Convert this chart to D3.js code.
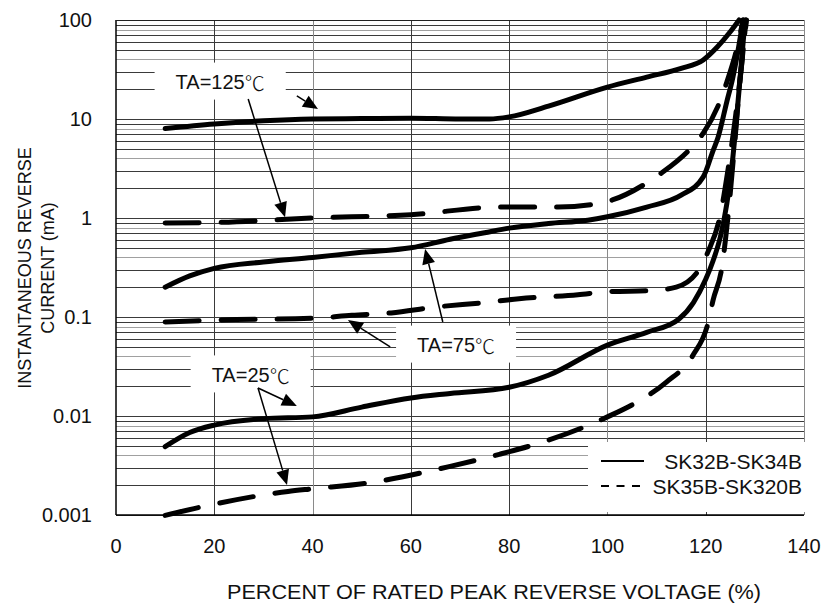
<!DOCTYPE html>
<html>
<head>
<meta charset="utf-8">
<script src="https://cdn.jsdelivr.net/npm/d3@7"></script>
<style>
  html, body { margin: 0; padding: 0; background: #fff; }
  text { font-family: "Liberation Sans", Arial, sans-serif; fill: #111; }
</style>
</head>
<body>
<svg id="chart" width="827" height="603"></svg>
<script>
// ---------------- DATA ----------------
const xTicks = [0, 20, 40, 60, 80, 100, 120, 140];
const yTicks = [0.001, 0.01, 0.1, 1, 10, 100];
const yTickLabels = ["0.001", "0.01", "0.1", "1", "10", "100"];

// [percent of rated voltage, reverse current mA]
const solid125 = [[10,8.0],[20,8.9],[30,9.6],[40,10],[50,10.1],[60,10.2],[70,10],[76,10],[80,10.5],[88,13.5],[100,21],[108,26.5],[115,32.5],[119.5,39.5],[122.3,53],[125,76],[126.8,100]];
const dashed125 = [[10,0.89],[20,0.9],[40,1.0],[60,1.08],[78,1.29],[90,1.29],[97.5,1.38],[101,1.52],[108,2.26],[111,2.85],[117,5.1],[119.5,7.2],[122.5,13.5],[124.3,23.6],[126.4,53],[127.6,100]];
const solid75 = [[10,0.2],[15,0.26],[20,0.31],[30,0.36],[40,0.40],[50,0.45],[60,0.5],[68,0.61],[75,0.71],[80,0.79],[88,0.88],[96,0.95],[100,1.03],[108,1.29],[115,1.7],[119.5,2.6],[121.5,4.8],[122.5,6.5],[124.3,15],[125.5,26],[126.5,47],[127.6,100]];
const dashed75 = [[10,0.089],[20,0.093],[40,0.097],[48,0.104],[56,0.11],[65,0.126],[75,0.14],[82,0.153],[94,0.168],[100,0.18],[109,0.185],[114,0.2],[118.8,0.31],[120.5,0.46],[122.9,1.03],[124.5,3],[126,10],[127.3,35],[128.2,100]];
const solid25 = [[10,0.0049],[15,0.0068],[20,0.0081],[30,0.0094],[40,0.0098],[50,0.0123],[60,0.0152],[68,0.0169],[80,0.0195],[88,0.0258],[100,0.052],[108,0.07],[114.5,0.095],[117.5,0.14],[120,0.24],[121.5,0.37],[123,0.65],[124.3,1.4],[125.5,4],[126.8,20],[128,100]];
const dashed25 = [[10,0.00099],[17.5,0.00121],[35,0.00173],[40,0.00184],[51,0.0021],[68,0.0031],[78,0.0041],[88,0.0057],[100,0.0098],[106,0.0138],[112,0.022],[117.4,0.041],[120.5,0.088],[121.5,0.148],[123.3,0.32],[124.5,1],[125.8,5],[127,25],[128.3,100]];

const seriesNames = ["SK32B-SK34B", "SK35B-SK320B"];
const tempLabels = ["TA=125", "TA=75", "TA=25"];
// label anchor points (data coords: percent, mA)
const labelPos = [[21.2, 23.6], [69.2, 0.052], [27.4, 0.026]];
// arrows: [tailX, tailY, tipX, tipY] in data coords
const arrows = [
  [36.8, 17.1, 41.1, 12.6],
  [26.9, 15.9, 34.4, 1.02],
  [55.8, 0.0498, 47.2, 0.093],
  [66.5, 0.089, 62.9, 0.486],
  [28.9, 0.0192, 36.8, 0.0126],
  [28.9, 0.0192, 34.8, 0.00201]
];

// ---------------- LAYOUT ----------------
const svg = d3.select("#chart");
const L = 116, R = 804, T = 20, B = 515;
const x = d3.scaleLinear().domain([0, 140]).range([L, R]);
const y = d3.scaleLog().domain([0.001, 100]).range([B, T]);

// grid
const g = svg.append("g");
const minorVals = [];
for (let e = -3; e < 2; e++) for (let m = 1; m <= 9; m++) minorVals.push(m * Math.pow(10, e));
minorVals.push(100);
g.selectAll("line.h").data(minorVals).enter().append("line")
  .attr("x1", L).attr("x2", R)
  .attr("y1", d => Math.round(y(d)) + 0.5).attr("y2", d => Math.round(y(d)) + 0.5)
  .attr("stroke", d => {
    const m = Math.round(d / Math.pow(10, Math.floor(Math.log10(d) + 1e-9)));
    return (m === 4 || m === 8) ? "#a0a0a0" : "#3a3a3a";
  })
  .attr("stroke-width", 1);
g.selectAll("line.v").data(xTicks.slice(1)).enter().append("line")
  .attr("x1", d => Math.round(x(d)) + 0.5).attr("x2", d => Math.round(x(d)) + 0.5)
  .attr("y1", T).attr("y2", B)
  .attr("stroke", d => (d === 40 || d === 100 || d === 140) ? "#8a8a8a" : "#3a3a3a")
  .attr("stroke-width", 1);

// axes frame (left, bottom, top)
svg.append("line").attr("x1", L).attr("x2", L).attr("y1", T).attr("y2", B).attr("stroke", "#000").attr("stroke-width", 1.5);
svg.append("line").attr("x1", L).attr("x2", R).attr("y1", B).attr("y2", B).attr("stroke", "#000").attr("stroke-width", 1.5);
svg.append("line").attr("x1", L).attr("x2", R).attr("y1", T + 0.5).attr("y2", T + 0.5).attr("stroke", "#222").attr("stroke-width", 1);

// white label boxes (hide gridlines)
const boxG = svg.append("g");
// legend box
svg.append("rect").attr("x", 588).attr("y", 442).attr("width", 218).attr("height", 70).attr("fill", "#fff");

// curves
const line = d3.line().x(d => x(d[0])).y(d => y(d[1])).curve(d3.curveMonotoneX);
const curves = [
  [solid125, false], [dashed125, true],
  [solid75, false], [dashed75, true],
  [solid25, false], [dashed25, true]
];
svg.append("g").selectAll("path").data(curves).enter().append("path")
  .attr("d", d => line(d[0]))
  .attr("fill", "none").attr("stroke", "#000").attr("stroke-width", 5)
  .attr("stroke-linecap", "round").attr("stroke-linejoin", "round")
  .attr("stroke-dasharray", d => d[1] ? "34,22" : null);

// labels
const txtG = svg.append("g");
tempLabels.forEach((t, i) => {
  const tx = txtG.append("text")
    .attr("x", x(labelPos[i][0])).attr("y", y(labelPos[i][1]))
    .attr("text-anchor", "middle").attr("dominant-baseline", "central")
    .attr("font-size", 20);
  tx.append("tspan").text(t);
  tx.append("tspan").attr("font-family", "Noto Sans CJK SC").attr("font-weight", 300).text("℃");
  const bb = tx.node().getBBox();
  boxG.append("rect").attr("x", bb.x - 21).attr("y", bb.y - 5)
    .attr("width", bb.width + 42).attr("height", bb.height + 8).attr("fill", "#fff");
});

// arrows
const aG = svg.append("g");
arrows.forEach(a => {
  const x1 = x(a[0]), y1 = y(a[1]), x2 = x(a[2]), y2 = y(a[3]);
  const ang = Math.atan2(y2 - y1, x2 - x1);
  const hl = 15, hw = 6.5;
  const bx = x2 - hl * Math.cos(ang), by = y2 - hl * Math.sin(ang);
  aG.append("line").attr("x1", x1).attr("y1", y1).attr("x2", bx).attr("y2", by)
    .attr("stroke", "#000").attr("stroke-width", 1.5);
  const px = -Math.sin(ang) * hw, py = Math.cos(ang) * hw;
  aG.append("path")
    .attr("d", `M${x2},${y2}L${bx + px},${by + py}L${bx - px},${by - py}Z`)
    .attr("fill", "#000");
});

// legend
const lg = svg.append("g");
lg.append("line").attr("x1", 601).attr("x2", 644).attr("y1", 461).attr("y2", 461).attr("stroke", "#000").attr("stroke-width", 2);
lg.append("line").attr("x1", 601).attr("x2", 644).attr("y1", 486).attr("y2", 486).attr("stroke", "#000").attr("stroke-width", 2).attr("stroke-dasharray", "8,7.5");
lg.selectAll("text").data(seriesNames).enter().append("text")
  .attr("x", 802).attr("y", (d, i) => 461 + i * 25)
  .attr("text-anchor", "end").attr("dominant-baseline", "central")
  .attr("font-size", 21).text(d => d);

// tick labels
svg.append("g").selectAll("text").data(yTicks).enter().append("text")
  .attr("x", 92).attr("y", d => y(d))
  .attr("text-anchor", "end").attr("dominant-baseline", "central")
  .attr("font-size", 20).text((d, i) => yTickLabels[i]);
svg.append("g").selectAll("text").data(xTicks).enter().append("text")
  .attr("x", d => x(d)).attr("y", 546)
  .attr("text-anchor", "middle").attr("dominant-baseline", "central")
  .attr("font-size", 20).text(d => d);

// axis titles
svg.append("text").attr("x", 494).attr("y", 599)
  .attr("text-anchor", "middle").attr("font-size", 20.5)
  .attr("textLength", 534).attr("lengthAdjust", "spacingAndGlyphs")
  .text("PERCENT OF RATED PEAK REVERSE VOLTAGE (%)");
const yt = svg.append("g").attr("transform", "translate(0,268) rotate(-90)");
yt.append("text").attr("x", 0).attr("y", 25).attr("text-anchor", "middle")
  .attr("dominant-baseline", "central").attr("font-size", 18).text("INSTANTANEOUS REVERSE");
yt.append("text").attr("x", 0).attr("y", 48).attr("text-anchor", "middle")
  .attr("dominant-baseline", "central").attr("font-size", 18).text("CURRENT (mA)");
</script>
</body>
</html>
